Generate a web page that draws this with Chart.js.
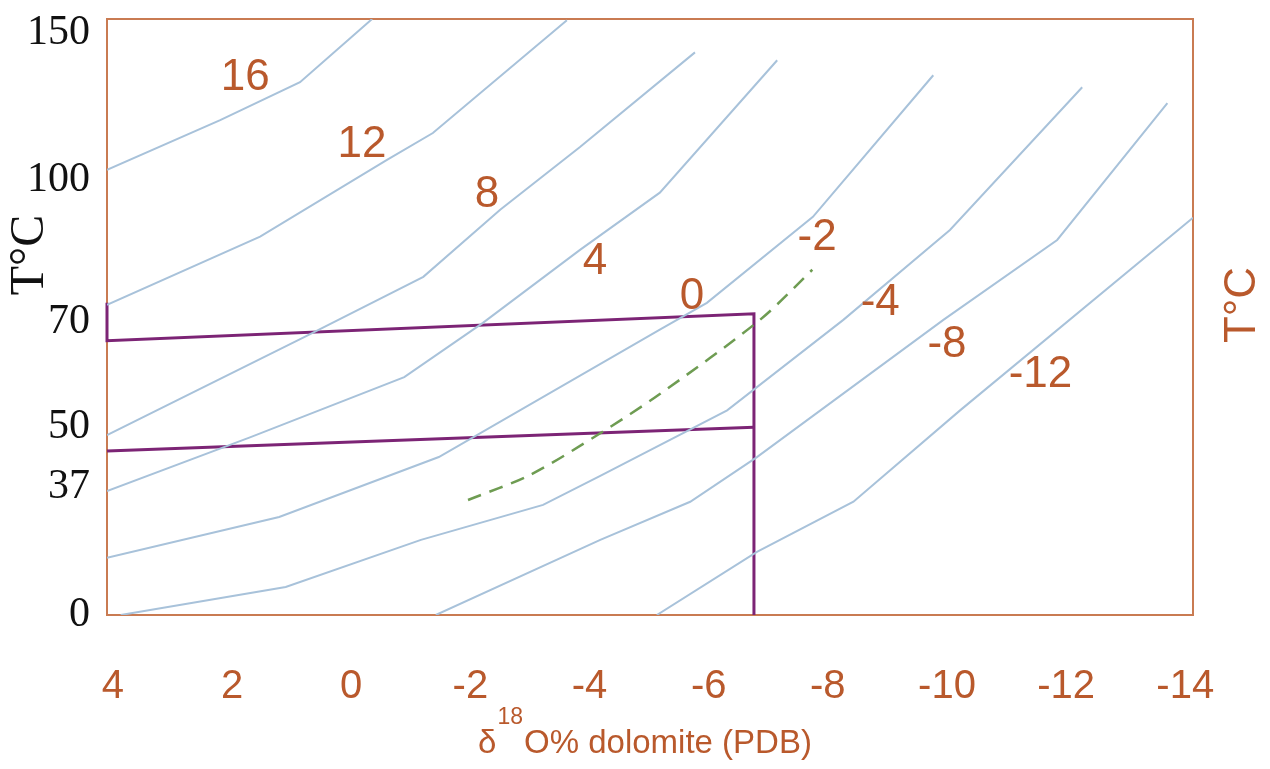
<!DOCTYPE html>
<html>
<head>
<meta charset="utf-8">
<script src="https://cdn.jsdelivr.net/npm/chart.js@4.4.1/dist/chart.umd.min.js"></script>
<style>
  html, body { margin: 0; padding: 0; background: #fff; }
  #wrap { width: 1270px; height: 769px; }
</style>
</head>
<body>
<div id="wrap"><canvas id="chart"></canvas></div>
<script>
// Axis ticks
const xTicks = [4, 2, 0, -2, -4, -6, -8, -10, -12, -14];
const yTicks = [0, 37, 50, 70, 100, 150];

// Isolines of water δ18O : [δ18O dolomite, T°C]
const iso16  = [[4.1, 103.4], [2.2, 120.4], [0.86, 133.3], [-0.35, 155]];
const iso12  = [[4.1, 73.6], [1.53, 88.0], [-0.6, 106.8], [-1.37, 116.0], [-3.62, 154.6]];
const iso8   = [[4.1, 48.3], [0.79, 67.1], [-1.21, 79.5], [-2.5, 93.7], [-3.84, 111.2], [-5.77, 143.5]];
const iso4   = [[4.1, 35.8], [1.7, 47.8], [-0.89, 59.5], [-2.21, 69.8], [-3.84, 85.2], [-5.18, 97.3], [-7.15, 140.8]];
const iso0   = [[4.1, 16.5], [1.21, 28.3], [-1.47, 43.5], [-5.18, 68.5], [-5.97, 74.0], [-7.75, 92.2], [-9.77, 135.7]];
const isoM4  = [[3.87, 0], [1.1, 8.1], [-1.17, 21.7], [-3.22, 31.8], [-4.18, 39.4], [-6.31, 53.2], [-8.26, 70.4], [-10.05, 89.4], [-12.27, 131.6]];
const isoM8  = [[-1.42, 0], [-4.18, 21.7], [-5.69, 32.7], [-6.81, 43.5], [-9.94, 70.4], [-11.85, 87.3], [-13.7, 126.2]];
const isoM12 = [[-5.13, 0], [-6.81, 18.2], [-8.43, 32.7], [-10.22, 53.2], [-14.13, 92.0]];
const isoM2  = [[-1.96, 33.2], [-3.0, 39.6], [-4.18, 48.7], [-5.18, 56.3], [-6.86, 70.4], [-7.74, 81.0]];

// Sample box (purple)
const boxUpper = [[4.1, 74], [4.1, 66.4], [-6.76, 71.7], [-6.76, 0]];
const boxLower = [[4.1, 44.8], [-6.76, 50]];

// Isoline labels and where they sit [δ18O, T°C]
const isoLabels   = ['16', '12', '8', '4', '0', '-2', '-4', '-8', '-12'];
const isoLabelPos = [[1.78, 134.7], [-0.18, 111.9], [-2.28, 96.8], [-4.09, 82.7], [-5.72, 75.3],
                     [-7.82, 87.7], [-8.88, 74.0], [-10.0, 65.6], [-11.57, 59.9]];

const blue   = '#a8c2da';
const rust   = '#b9592c';
const purple = '#7c2475';
const green  = '#6e9c52';
const sans   = '"Liberation Sans", Arial, sans-serif';
const serif  = '"Liberation Serif", "Times New Roman", serif';

// The T axis of the original is hand-spaced : piecewise linear between ticks
const yKnots    = [0, 37, 50, 70, 100, 150, 155];
const yKnotFrac = [0, 0.215, 0.315, 0.492, 0.730, 0.976, 1];

function interp(v, from, to) {
  let i = 1;
  while (i < from.length - 1 && v > from[i]) i++;
  const a = from[i - 1], b = from[i];
  return to[i - 1] + (v - a) / (b - a) * (to[i] - to[i - 1]);
}

class KnotScale extends Chart.LinearScale {
  getPixelForValue(v) { return this.getPixelForDecimal(interp(v, yKnots, yKnotFrac)); }
  getValueForPixel(p) { return interp(this.getDecimalForPixel(p), yKnotFrac, yKnots); }
}
KnotScale.id = 'knot';
KnotScale.defaults = Chart.LinearScale.defaults;
Chart.register(KnotScale);

const pts = arr => arr.map(([x, y]) => ({ x, y }));
const iso = (arr, extra) => Object.assign({
  data: pts(arr), borderColor: blue, borderWidth: 2, pointRadius: 0, tension: 0, fill: false
}, extra || {});

// Frame round the plot
const framePlugin = {
  id: 'frame',
  beforeDatasetsDraw(chart) {
    const { ctx, chartArea: a } = chart;
    ctx.save();
    ctx.strokeStyle = '#c97b52';
    ctx.lineWidth = 2;
    ctx.strokeRect(a.left, a.top, a.right - a.left, a.bottom - a.top);
    ctx.restore();
  }
};

// Isoline labels and axis titles
const textPlugin = {
  id: 'texts',
  afterDraw(chart) {
    const { ctx, chartArea: a, scales: { x, y } } = chart;
    ctx.save();
    ctx.fillStyle = rust;
    ctx.textAlign = 'center';
    ctx.textBaseline = 'middle';
    ctx.font = '44px ' + sans;
    isoLabels.forEach((t, i) => {
      const [vx, vy] = isoLabelPos[i];
      ctx.fillText(t, x.getPixelForValue(vx), y.getPixelForValue(vy));
    });

    // right title
    ctx.save();
    ctx.translate(a.right + 50, 305);
    ctx.rotate(-Math.PI / 2);
    ctx.fillText('T°C', 0, 0);
    ctx.restore();

    // left title
    ctx.save();
    ctx.fillStyle = '#111';
    ctx.font = '48px ' + serif;
    ctx.translate(30, 255);
    ctx.rotate(-Math.PI / 2);
    ctx.fillText('T°C', 0, 0);
    ctx.restore();

    // bottom title with superscript
    const mainFont = '33px ' + sans, supFont = '23px ' + sans;
    ctx.textAlign = 'left';
    ctx.textBaseline = 'alphabetic';
    ctx.font = mainFont;
    const wD = ctx.measureText('δ').width;
    const wR = ctx.measureText('O% dolomite (PDB)').width;
    ctx.font = supFont;
    const wS = ctx.measureText('18').width;
    let px = 645 - (wD + wS + wR + 2) / 2;
    const base = 753;
    ctx.font = mainFont;
    ctx.fillText('δ', px, base); px += wD + 1;
    ctx.font = supFont;
    ctx.fillText('18', px, base - 29); px += wS + 1;
    ctx.font = mainFont;
    ctx.fillText('O% dolomite (PDB)', px, base);
    ctx.restore();
  }
};

new Chart(document.getElementById('chart'), {
  type: 'line',
  data: {
    datasets: [
      iso(iso16), iso(iso12), iso(iso8), iso(iso4), iso(iso0),
      iso(isoM4), iso(isoM8), iso(isoM12),
      iso(isoM2, { borderColor: green, borderWidth: 2.5, borderDash: [14, 9], tension: 0.3 }),
      iso(boxUpper, { borderColor: purple, borderWidth: 3, clip: 4 }),
      iso(boxLower, { borderColor: purple, borderWidth: 3, clip: 4 })
    ]
  },
  options: {
    responsive: true,
    maintainAspectRatio: false,
    animation: false,
    layout: { padding: { top: 19, right: 77, left: 0, bottom: 0 } },
    scales: {
      x: {
        type: 'linear',
        reverse: true,
        min: -14.13,
        max: 4.1,
        grid: { display: false },
        border: { display: false },
        afterBuildTicks: s => { s.ticks = xTicks.map(v => ({ value: v })); },
        afterFit: s => { s.height = 154; s.paddingLeft = 0; s.paddingRight = 0; },
        ticks: {
          autoSkip: false, maxRotation: 0, padding: 40,
          color: rust, font: { size: 40, family: sans }
        }
      },
      y: {
        type: 'knot',
        min: 0,
        max: 155,
        grid: { display: false },
        border: { display: false },
        afterBuildTicks: s => { s.ticks = yTicks.map(v => ({ value: v })); },
        afterFit: s => { s.width = 107; s.paddingTop = 0; s.paddingBottom = 0; },
        ticks: {
          autoSkip: false, padding: 9,
          color: '#111', font: { size: 42, family: serif }
        }
      }
    },
    plugins: { legend: { display: false }, tooltip: { enabled: false } }
  },
  plugins: [framePlugin, textPlugin]
});
</script>
</body>
</html>
